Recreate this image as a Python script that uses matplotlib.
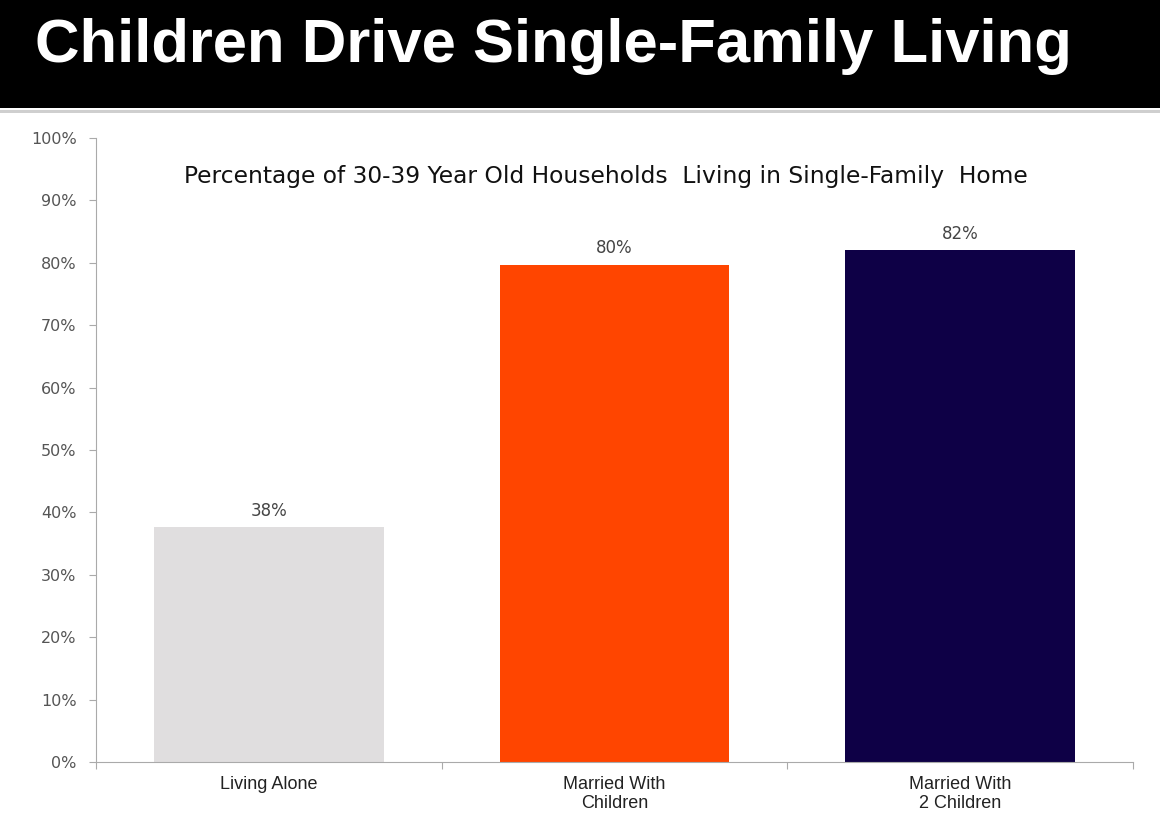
import matplotlib.pyplot as plt
from matplotlib.patches import Rectangle

plt.rcParams['font.family'] = ['Liberation Sans', 'DejaVu Sans']

categories = ['Living Alone', 'Married With\nChildren', 'Married With\n2 Children']
values = [37.6, 79.7, 82.0]
value_labels = ['38%', '80%', '82%']
bar_colors = ['#E0DEDF', '#FF4500', '#0E0046']
yticks = [0, 10, 20, 30, 40, 50, 60, 70, 80, 90, 100]

fig = plt.figure(figsize=(11.6, 8.24), dpi=100)

# black header band with the slide title
fig.patches.append(Rectangle((0, 1 - 108 / 824), 1, 108 / 824, transform=fig.transFigure,
                             facecolor='black', zorder=0))
fig.patches.append(Rectangle((0, 1 - 113 / 824), 1, 3 / 824, transform=fig.transFigure,
                             facecolor='#cfcfcf', zorder=0))
fig.text(35 / 1160, 1 - 62 / 824, 'Children Drive Single-Family Living', color='white',
         fontsize=44.4, fontweight='bold', va='baseline', ha='left')

ax = fig.add_axes([96 / 1160, 1 - 762 / 824, (1133 - 96) / 1160, (762 - 138) / 824])
x = range(len(categories))
ax.bar(x, values, width=0.665, color=bar_colors)
for i, v in enumerate(values):
    ax.text(i, v + 1.2, value_labels[i], ha='center', va='bottom', fontsize=12,
            color='#444444', family='DejaVu Sans')

ax.set_xlim(-0.5, 2.5)
ax.set_ylim(0, 100)
ax.set_yticks(yticks)
ax.set_yticklabels([f'{t}%' for t in yticks], fontsize=11.5, color='#555555', family='DejaVu Sans')
ax.set_xticks([-0.5, 0.5, 1.5, 2.5])
ax.set_xticklabels([])
ax.set_xticks(list(x), minor=True)
ax.set_xticklabels(categories, minor=True, fontsize=13, color='#222222', linespacing=1.15)
ax.tick_params(axis='x', which='minor', length=0, pad=10)
ax.tick_params(axis='x', which='major', length=5, color='#aaaaaa', direction='out')
ax.tick_params(axis='y', length=5, color='#aaaaaa', pad=9)
for s in ['top', 'right']:
    ax.spines[s].set_visible(False)
for s in ['left', 'bottom']:
    ax.spines[s].set_color('#aaaaaa')

ax.text(0.492, 0.938, 'Percentage of 30-39 Year Old Households  Living in Single-Family  Home',
        transform=ax.transAxes, ha='center', va='center', fontsize=16.8, color='#111111',
        family='DejaVu Sans')

fig.savefig('out.png', dpi=100)
